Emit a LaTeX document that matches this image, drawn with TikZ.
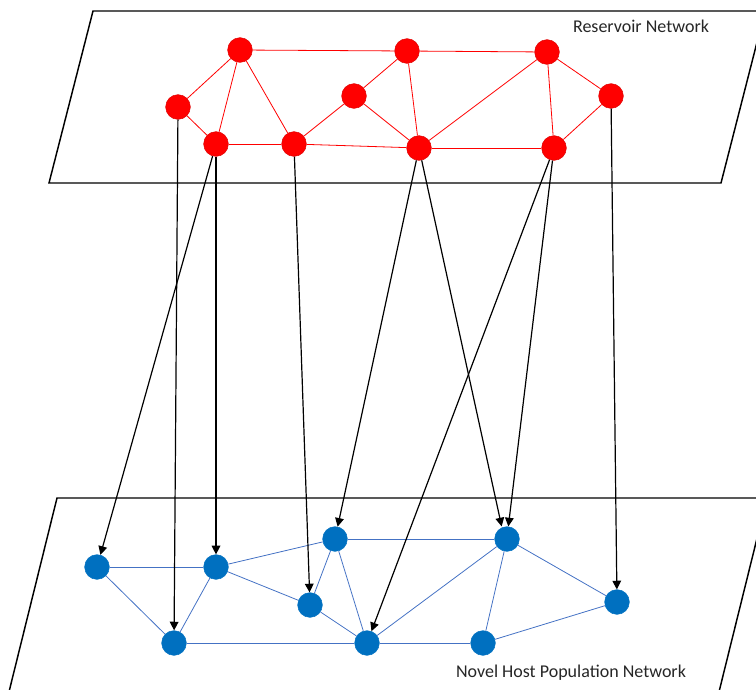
\documentclass[tikz,border=0pt]{standalone}
\usepackage{fontspec}
\setmainfont{Carlito}
\usetikzlibrary{arrows.meta}

\definecolor{hostblue}{HTML}{0070C0}
\definecolor{linkblue}{HTML}{4472C4}
\definecolor{rimred}{HTML}{E00000}

\begin{document}
\begin{tikzpicture}[x = 0.75 pt, y = -0.75 pt,
	reservoir/.style = {circle, fill = red, draw = rimred, line width = 0.4 pt, minimum size = 18.5 pt, inner sep = 0 pt},
	host/.style = {circle, fill = hostblue, draw = hostblue, line width = 0.4 pt, minimum size = 18.5 pt, inner sep = 0 pt},
	redlink/.style = {red, line width = 0.6 pt},
	bluelink/.style = {linkblue, line width = 0.6 pt},
	spill/.style = {-{Triangle[length=6.5pt, width=6.5pt]}, line width = 0.9 pt},
	layer/.style = {line width = 1.1 pt},
	caption/.style = {font = \fontsize{13.5}{16}\selectfont, text = black!85}]

	% Canvas
	
	\useasboundingbox (0, 0) rectangle (756, 689);
	\clip (0, 0) rectangle (756, 689);
	
	% Planes
	
	\draw [layer] (93, 11) -- (765, 11) -- (721, 183) -- (49, 183) -- cycle;
	\draw [layer] (57, 498) -- (767, 498) -- (714, 712) -- (4, 712) -- cycle;
	
	\node [caption] (top) at (641, 26) {Reservoir Network};
	\node [caption] (bottom) at (571, 673) {Novel Host Population Network};
	
	% Reservoir nodes
	
	\node [reservoir] (r1) at (240, 50) {};
	\node [reservoir] (r2) at (178, 107) {};
	\node [reservoir] (r3) at (216, 144) {};
	\node [reservoir] (r4) at (294, 144) {};
	\node [reservoir] (r5) at (354, 96) {};
	\node [reservoir] (r6) at (407, 51) {};
	\node [reservoir] (r7) at (547, 52) {};
	\node [reservoir] (r8) at (611, 96) {};
	\node [reservoir] (r9) at (419, 148) {};
	\node [reservoir] (r10) at (554, 148) {};
	
	% Host nodes
	
	\node [host] (h1) at (97, 567) {};
	\node [host] (h2) at (216, 567) {};
	\node [host] (h3) at (174, 643) {};
	\node [host] (h4) at (335, 539) {};
	\node [host] (h5) at (310, 605) {};
	\node [host] (h6) at (367, 643) {};
	\node [host] (h7) at (507, 539) {};
	\node [host] (h8) at (617, 602) {};
	\node [host] (h9) at (483, 643) {};
	
	% Links within reservoir
	
	\draw [redlink] (r1) -- (r6);
	\draw [redlink] (r6) -- (r7);
	\draw [redlink] (r1) -- (r2);
	\draw [redlink] (r1) -- (r3);
	\draw [redlink] (r1) -- (r4);
	\draw [redlink] (r2) -- (r3);
	\draw [redlink] (r3) -- (r4);
	\draw [redlink] (r4) -- (r5);
	\draw [redlink] (r4) -- (r9);
	\draw [redlink] (r5) -- (r6);
	\draw [redlink] (r5) -- (r9);
	\draw [redlink] (r6) -- (r9);
	\draw [redlink] (r9) -- (r7);
	\draw [redlink] (r9) -- (r10);
	\draw [redlink] (r7) -- (r10);
	\draw [redlink] (r7) -- (r8);
	\draw [redlink] (r8) -- (r10);
	
	% Links within host population
	
	\draw [bluelink] (h1) -- (h2);
	\draw [bluelink] (h1) -- (h3);
	\draw [bluelink] (h2) -- (h3);
	\draw [bluelink] (h2) -- (h4);
	\draw [bluelink] (h2) -- (h5);
	\draw [bluelink] (h4) -- (h5);
	\draw [bluelink] (h4) -- (h6);
	\draw [bluelink] (h5) -- (h6);
	\draw [bluelink] (h3) -- (h6);
	\draw [bluelink] (h4) -- (h7);
	\draw [bluelink] (h7) -- (h6);
	\draw [bluelink] (h7) -- (h9);
	\draw [bluelink] (h7) -- (h8);
	\draw [bluelink] (h9) -- (h8);
	\draw [bluelink] (h6) -- (h9);
	
	% Spillover
	
	\draw [spill] (r2) -- (h3);
	\draw [spill] (r3) -- (h1);
	\draw [spill] (r3) -- (h2);
	\draw [spill] (r4) -- (h5);
	\draw [spill] (r9) -- (h4);
	\draw [spill] (r9) -- ([xshift=-4pt]h7.north);
	\draw [spill] (r10) -- (h6);
	\draw [spill] (r10) -- ([xshift=1pt]h7.north);
	\draw [spill] (r8) -- (h8);

\end{tikzpicture}
\end{document}
